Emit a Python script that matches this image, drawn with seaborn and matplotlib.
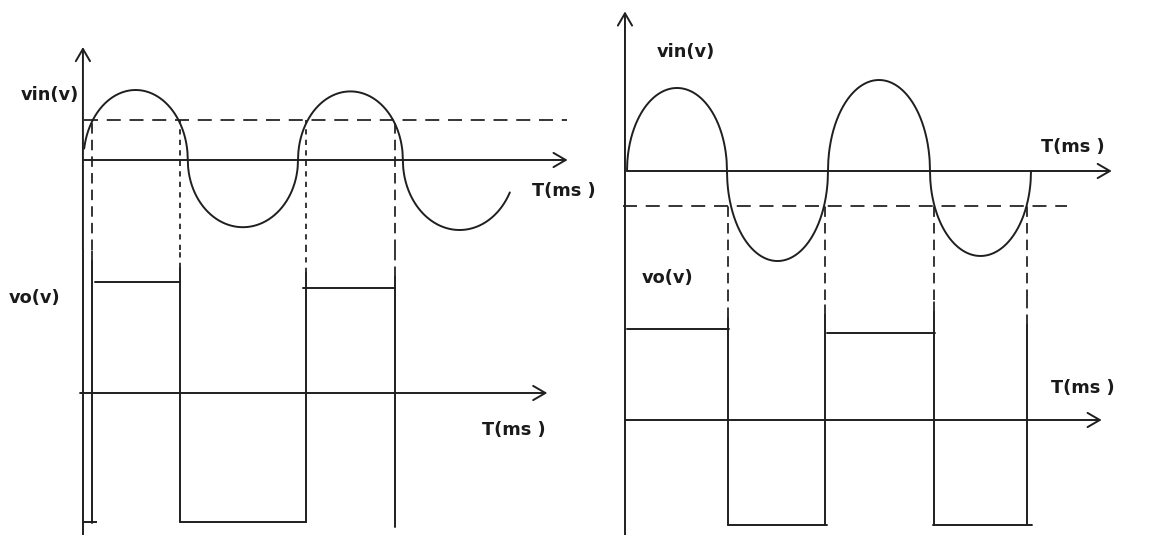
import numpy as np
import pandas as pd
import matplotlib
matplotlib.use("Agg")
import matplotlib.pyplot as plt
import seaborn as sns

sns.set_theme(style="white")
plt.rcParams["font.family"] = ["DejaVu Sans"]

INK = "#1f1f1f"
LW = 1.4

# ---------------- data (time in ms, voltage in V) ----------------
# Left diagram: comparator with positive reference
L_HALF_START = [-0.05, 9.7, 20.0, 29.8]
L_HALF_END = [9.7, 20.0, 29.8, 40.4]
L_HALF_PEAK = [5.0, -4.8, 4.9, -5.0]
L_VIN_SPAN = [0.0, 39.8]
L_THRESHOLD = 2.86
L_EDGES = [0.75, 8.97, 20.75, 29.07]
L_EDGE_TOP = [9.4, 8.9, 8.6, 8.3]
L_EDGE_BOTTOM = [-9.3, -9.2, -9.2, -9.55]
L_LEVEL_START = [1.0, 8.97, 20.5]
L_LEVEL_END = [8.97, 20.75, 29.07]
L_LEVEL_V = [7.9, -9.2, 7.5]
L_FOOT_T = [-0.1, 1.2]
L_FOOT_V = -9.2

# Right diagram: comparator with negative reference
R_HALF_START = [0.0, 9.9, 19.9, 30.0]
R_HALF_END = [9.9, 19.9, 30.0, 40.0]
R_HALF_PEAK = [5.93, -6.43, 6.5, -6.07]
R_VIN_SPAN = [0.0, 40.0]
R_THRESHOLD = -2.5
R_EDGES = [10.0, 19.6, 30.4, 39.6]
R_EDGE_TOP = [7.3, 7.5, 7.7, 6.8]
R_EDGE_BOTTOM = [-7.5, -7.5, -7.5, -7.5]
R_LEVEL_START = [0.0, 10.0, 19.8, 30.3]
R_LEVEL_END = [10.1, 19.8, 30.5, 40.1]
R_LEVEL_V = [6.5, -7.5, 6.21, -7.5]

LABEL_VIN = "vin(v)"
LABEL_VO = "vo(v)"
LABEL_T = "T(ms )"

# ---------------- layout ----------------
W, H = 1152, 535
fig = plt.figure(figsize=(W / 100, H / 100), dpi=100)
fig.patch.set_facecolor("white")


def make_ax(px_l, px_r, py_t, py_b, x0, kx, y0, ky):
    ax = fig.add_axes([px_l / W, 1 - py_b / H, (px_r - px_l) / W, (py_b - py_t) / H])
    ax.set_xlim((px_l - x0) / kx, (px_r - x0) / kx)
    ax.set_ylim((y0 - py_b) / ky, (y0 - py_t) / ky)
    ax.axis("off")
    return ax


def arrow(ax, start, end):
    ax.annotate("", xy=end, xytext=start, annotation_clip=False,
                arrowprops=dict(arrowstyle="->,head_length=0.55,head_width=0.32",
                                lw=LW, color=INK, shrinkA=0, shrinkB=0,
                                mutation_scale=16))


def label(px, py, s):
    fig.text(px / W, 1 - py / H, s, ha="left", va="center", fontsize=12.8,
             fontweight="bold", color="#1a1a1a")


def arcs(starts, ends, peaks, span):
    rows = []
    for i, (a, b, p) in enumerate(zip(starts, ends, peaks)):
        u = np.linspace(0, 1, 300)
        t = a + u * (b - a)
        v = p * np.sqrt(np.clip(1 - (2 * u - 1) ** 2, 0, None))
        keep = (t >= span[0]) & (t <= span[1])
        rows.append(pd.DataFrame({"t": t[keep], "v": v[keep], "seg": i}))
    return pd.concat(rows, ignore_index=True)


def square(edges, tops, bottoms, lstart, lend, lv):
    rows = []
    k = 0
    for e, top, bot in zip(edges, tops, bottoms):
        rows.append(pd.DataFrame({"t": [e, e], "v": [top, bot], "seg": k}))
        k += 1
    for a, b, v in zip(lstart, lend, lv):
        rows.append(pd.DataFrame({"t": [a, b], "v": [v, v], "seg": k}))
        k += 1
    return pd.concat(rows, ignore_index=True)


PANELS = [
    dict(px=(0, 576), split=250, x0=84, kx=10.7, vin_y0=160, vo_y0=393, ky=14,
         vin_axis=(0.0, 45.2), vo_axis=(-0.37, 43.3), thr_span=(0.0, 45.1),
         yaxis_t=-0.1, yaxis_top=8.07,
         starts=L_HALF_START, ends=L_HALF_END, peaks=L_HALF_PEAK, span=L_VIN_SPAN,
         thr=L_THRESHOLD, edges=L_EDGES, etop=L_EDGE_TOP, ebot=L_EDGE_BOTTOM,
         ls=L_LEVEL_START, le=L_LEVEL_END, lv=L_LEVEL_V,
         estyle=[(0, (6, 3.5)), (0, (3, 3)), (0, (3, 3)), (0, (6, 3.5))],
         labels=[(21, 95, LABEL_VIN), (9, 298, LABEL_VO), (532, 191, LABEL_T),
                 (482, 430, LABEL_T)]),
    dict(px=(576, 1152), split=300, x0=627, kx=10.1, vin_y0=171, vo_y0=420, ky=14,
         vin_axis=(0.0, 48.0), vo_axis=(-0.2, 47.0), thr_span=(-0.4, 43.6),
         yaxis_t=-0.2, yaxis_top=11.4,
         starts=R_HALF_START, ends=R_HALF_END, peaks=R_HALF_PEAK, span=R_VIN_SPAN,
         thr=R_THRESHOLD, edges=R_EDGES, etop=R_EDGE_TOP, ebot=R_EDGE_BOTTOM,
         ls=R_LEVEL_START, le=R_LEVEL_END, lv=R_LEVEL_V,
         estyle=[(0, (6, 3.5))] * 4,
         labels=[(657, 52, LABEL_VIN), (642, 278, LABEL_VO), (1041, 147, LABEL_T),
                 (1051, 388, LABEL_T)]),
]

for i, P in enumerate(PANELS):
    ax_in = make_ax(P["px"][0], P["px"][1], 0, P["split"], P["x0"], P["kx"], P["vin_y0"], P["ky"])
    ax_out = make_ax(P["px"][0], P["px"][1], P["split"], H, P["x0"], P["kx"], P["vo_y0"], P["ky"])

    # input sine wave
    df_in = arcs(P["starts"], P["ends"], P["peaks"], P["span"])
    sns.lineplot(data=df_in, x="t", y="v", units="seg", estimator=None, sort=False,
                 color=INK, lw=LW, ax=ax_in)

    # axes of the input plot
    arrow(ax_in, (P["vin_axis"][0], 0), (P["vin_axis"][1], 0))
    ylo_in = ax_in.get_ylim()[0]
    arrow(ax_in, (P["yaxis_t"], ylo_in), (P["yaxis_t"], P["yaxis_top"]))

    # reference level
    ax_in.hlines(P["thr"], *P["thr_span"], colors=INK, lw=LW * 0.9,
                 linestyles=[(0, (8, 5))])

    # projection lines
    for e, st in zip(P["edges"], P["estyle"]):
        ax_in.vlines(e, ylo_in, P["thr"], colors=INK, lw=LW * 0.9, linestyles=[st])
    yhi_out = ax_out.get_ylim()[1]
    for e, top, st in zip(P["edges"], P["etop"], P["estyle"]):
        ax_out.vlines(e, top, yhi_out, colors=INK, lw=LW * 0.9, linestyles=[st])

    # output square wave
    df_out = square(P["edges"], P["etop"], P["ebot"], P["ls"], P["le"], P["lv"])
    sns.lineplot(data=df_out, x="t", y="v", units="seg", estimator=None, sort=False,
                 color=INK, lw=LW, ax=ax_out)
    if i == 0:
        ax_out.hlines(L_FOOT_V, *L_FOOT_T, colors=INK, lw=LW)

    # axes of the output plot
    arrow(ax_out, (P["vo_axis"][0], 0), (P["vo_axis"][1], 0))
    ax_out.vlines(P["yaxis_t"], ax_out.get_ylim()[0], yhi_out, colors=INK, lw=LW)

    for lx, ly, s in P["labels"]:
        label(lx, ly, s)

fig.savefig("out.png", dpi=100, facecolor="white")
